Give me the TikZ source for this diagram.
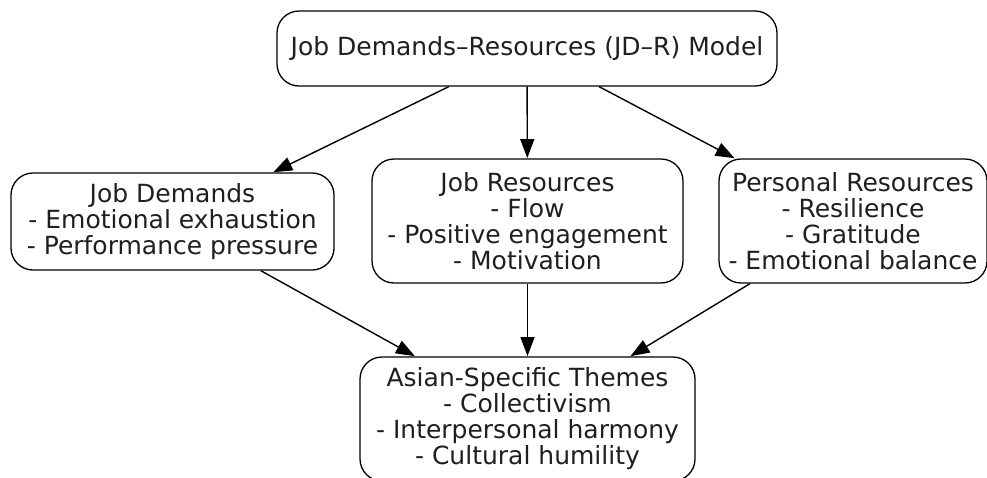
\documentclass[tikz,border=0pt]{standalone}
\usepackage{fontspec}
\setmainfont{DejaVu Sans}
\usetikzlibrary{arrows.meta}
\begin{document}
\begin{tikzpicture}[x=1pt,y=-1pt,
  box/.style={draw=black,line width=1.3pt,rounded corners=22pt,fill=white,
    align=center,inner sep=0pt,font=\fontsize{25}{26}\selectfont,text=black!88},
  link/.style={draw=black,line width=1.4pt,
    -{Triangle[length=19pt,width=14pt]},shorten >=0.3pt}]
\useasboundingbox (0,0) rectangle (987,477);
\fill[white] (0,0) rectangle (987,477);
\node[box,minimum width=500pt,minimum height=75pt] (model) at (527,48.5)
  {Job Demands–Resources (JD–R) Model};
\node[box,minimum width=323pt,minimum height=97pt] (demands) at (172.5,221.5)
  {Job Demands\\- Emotional exhaustion\\- Performance pressure};
\node[box,minimum width=311pt,minimum height=124pt] (jobres) at (527.5,221)
  {Job Resources\\- Flow\\- Positive engagement\\- Motivation};
\node[box,minimum width=268pt,minimum height=124pt] (personal) at (853,221)
  {Personal Resources\\- Resilience\\- Gratitude\\- Emotional balance};
\node[box,minimum width=335pt,minimum height=124pt] (asian) at (527.5,419)
  {Asian-Specific Themes\\- Collectivism\\- Interpersonal harmony\\- Cultural humility};
\draw[link] (model) -- (demands);
\draw[link] (model) -- (jobres);
\draw[link] (model) -- (personal);
\draw[link] (demands) -- (asian);
\draw[link] (jobres) -- (asian);
\draw[link] (personal) -- (asian);
\end{tikzpicture}
\end{document}
